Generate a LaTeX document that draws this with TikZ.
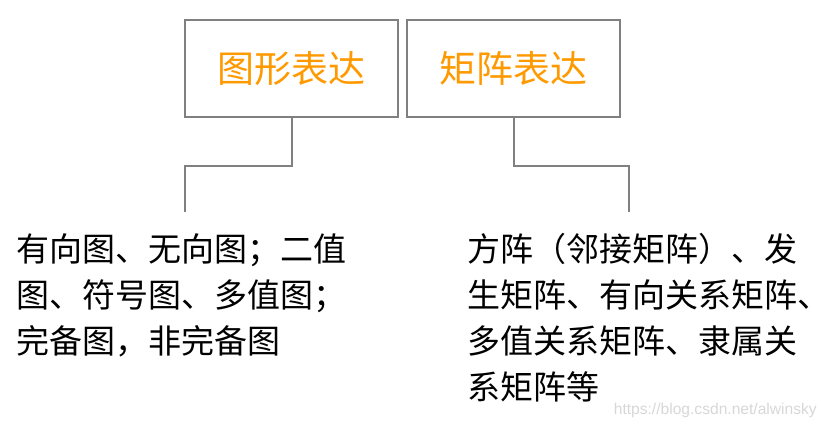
\documentclass[tikz,border=0pt]{standalone}
\usepackage{fontspec}
\usepackage{xcolor}
\usepackage{tikz}
\usetikzlibrary{positioning, calc}
\newfontfamily\cjk{Noto Sans CJK SC}
\newfontfamily\markfont{Liberation Sans}
\definecolor{titleorange}{RGB}{255, 153, 0}
\definecolor{linegray}{RGB}{128, 128, 128}
\definecolor{markgray}{RGB}{215, 215, 215}

\tikzset{
    headbox/.style={draw=linegray, line width=1.5pt, minimum width=159.75pt, minimum height=72.75pt,
        inner sep=0pt, font=\cjk\fontsize{27.75pt}{30pt}\selectfont, text=titleorange},
    link/.style={draw=linegray, line width=1.5pt},
    bodytext/.style={anchor=north west, inner sep=0pt, align=left,
        font=\cjk\fontsize{24.75pt}{34.5pt}\selectfont}
}

\begin{document}
\begin{tikzpicture}[x=0.75pt, y=-0.75pt]
    \useasboundingbox (0,0) rectangle (827,429);

    % Heads
    \node[headbox] (graph) at (291.5,68.5) {图形表达};
    \node[headbox] (matrix) at (513.5,68.5) {矩阵表达};

    % Text blocks
    \node[bodytext] (graphtext) at (16,233) {有向图、无向图；二值\\图、符号图、多值图；\\完备图，非完备图};
    \node[bodytext] (matrixtext) at (467,233) {方阵（邻接矩阵）、发\\生矩阵、有向关系矩阵、\\多值关系矩阵、隶属关\\系矩阵等};

    % Connectors
    \coordinate (graphend) at (185,212);
    \coordinate (matrixend) at (629,212);
    \draw[link] (graph.south) -- ++(0,48) -| (graphend);
    \draw[link] (matrix.south) -- ++(0,48) -| (matrixend);

    % Watermark
    \node[anchor=east, inner sep=0pt, text=markgray, font=\markfont\fontsize{11.7pt}{14pt}\selectfont] (mark) at (817,410) {https://blog.csdn.net/alwinsky};
\end{tikzpicture}
\end{document}
